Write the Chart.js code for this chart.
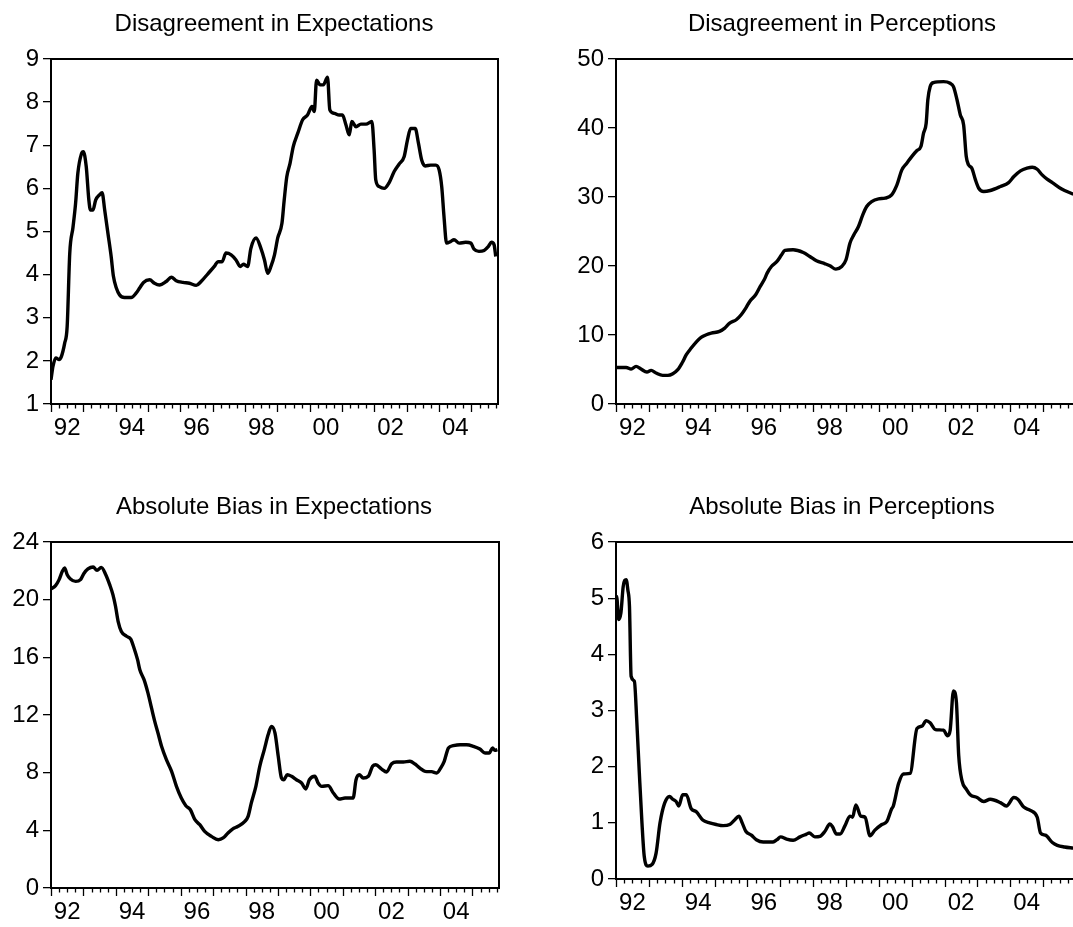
<!DOCTYPE html>
<html>
<head>
<meta charset="utf-8">
<script src="https://cdn.jsdelivr.net/npm/chart.js@4.4.0/dist/chart.umd.min.js"></script>
<style>
  html, body { margin: 0; padding: 0; background: #fff; }
  body { position: relative; width: 1073px; height: 927px; overflow: hidden; }
  .panel { position: absolute; }
  canvas { display: block; }
  .title {
    position: absolute; width: 440px; text-align: center; white-space: nowrap;
    font-family: "Liberation Sans", Arial, sans-serif; font-size: 24px; line-height: 28.8px; color: #000;
  }
</style>
</head>
<body>
<div class="panel" style="left:0px;top:0px"><canvas id="expDis" width="549" height="450"></canvas></div>
<div class="panel" style="left:560px;top:0px"><canvas id="perDis" width="563" height="450"></canvas></div>
<div class="panel" style="left:0px;top:483px"><canvas id="expBias" width="549" height="444"></canvas></div>
<div class="panel" style="left:560px;top:483px"><canvas id="perBias" width="563" height="444"></canvas></div>
<div class="title" style="left:54px;top:9px">Disagreement in Expectations</div>
<div class="title" style="left:622px;top:9px">Disagreement in Perceptions</div>
<div class="title" style="left:54px;top:492px">Absolute Bias in Expectations</div>
<div class="title" style="left:622px;top:492px">Absolute Bias in Perceptions</div>
<script>
// x axis labels, placed in the middle of every second year
const tickYears = [1992.5, 1994.5, 1996.5, 1998.5, 2000.5, 2002.5, 2004.5];
const tickLabels = ["92", "94", "96", "98", "00", "02", "04"];

// Disagreement in Expectations
const expDisYears = [
  1992.0, 1992.06, 1992.15, 1992.25, 1992.32, 1992.42, 1992.5, 1992.58, 1992.68, 1992.76,
  1992.83, 1992.94, 1993.0, 1993.09, 1993.17, 1993.22, 1993.3, 1993.38, 1993.5, 1993.58,
  1993.66, 1993.76, 1993.86, 1993.93, 1994.02, 1994.12, 1994.27, 1994.48, 1994.63, 1994.74,
  1994.86, 1995.05, 1995.2, 1995.35, 1995.56, 1995.72, 1995.87, 1996.08, 1996.28, 1996.49,
  1996.64, 1996.85, 1997.05, 1997.16, 1997.29, 1997.41, 1997.57, 1997.72, 1997.85, 1997.95,
  1998.08, 1998.18, 1998.34, 1998.49, 1998.6, 1998.7, 1998.8, 1998.91, 1999.01, 1999.14,
  1999.21, 1999.29, 1999.39, 1999.49, 1999.63, 1999.78, 1999.93, 2000.07, 2000.14, 2000.21,
  2000.32, 2000.42, 2000.55, 2000.62, 2000.76, 2000.91, 2001.01, 2001.12, 2001.22, 2001.3,
  2001.43, 2001.58, 2001.74, 2001.92, 2001.99, 2002.04, 2002.15, 2002.3, 2002.46, 2002.61,
  2002.76, 2002.92, 2003.02, 2003.12, 2003.26, 2003.36, 2003.46, 2003.57, 2003.74, 2003.9,
  2004.0, 2004.08, 2004.15, 2004.23, 2004.36, 2004.46, 2004.62, 2004.82, 2004.98, 2005.08,
  2005.23, 2005.39, 2005.52, 2005.62, 2005.7, 2005.75
];
const expDisValues = [
  1.56, 1.87, 2.07, 2.03, 2.1, 2.4, 2.8, 4.5, 5.1, 5.65,
  6.35, 6.8, 6.85, 6.5, 5.73, 5.5, 5.5, 5.73, 5.85, 5.9,
  5.5, 4.96, 4.42, 3.96, 3.69, 3.53, 3.47, 3.47, 3.57, 3.69,
  3.82, 3.88, 3.8, 3.76, 3.84, 3.94, 3.86, 3.82, 3.8, 3.75,
  3.84, 4.02, 4.19, 4.3, 4.3, 4.5, 4.46, 4.34, 4.19, 4.24,
  4.19, 4.61, 4.85, 4.61, 4.34, 4.03, 4.19, 4.46, 4.85, 5.19,
  5.73, 6.27, 6.58, 6.97, 7.28, 7.59, 7.7, 7.9, 7.78, 8.51,
  8.4, 8.4, 8.58, 7.82, 7.74, 7.7, 7.7, 7.47, 7.24, 7.55,
  7.43, 7.49, 7.49, 7.55, 6.89, 6.2, 6.04, 6.0, 6.14, 6.39,
  6.56, 6.74, 7.12, 7.39, 7.39, 7.05, 6.66, 6.52, 6.54, 6.54,
  6.43, 6.04, 5.35, 4.73, 4.77, 4.81, 4.73, 4.75, 4.73, 4.59,
  4.54, 4.56, 4.65, 4.75, 4.69, 4.42
];

// Disagreement in Perceptions
const perDisYears = [
  1992.0, 1992.31, 1992.46, 1992.61, 1992.76, 1992.94, 1993.07, 1993.22, 1993.42, 1993.58,
  1993.73, 1993.88, 1994.01, 1994.14, 1994.29, 1994.44, 1994.59, 1994.75, 1994.9, 1995.15,
  1995.31, 1995.46, 1995.66, 1995.81, 1995.95, 1996.07, 1996.25, 1996.39, 1996.51, 1996.6,
  1996.73, 1996.9, 1997.04, 1997.14, 1997.39, 1997.7, 1997.9, 1998.1, 1998.36, 1998.51,
  1998.69, 1998.87, 1999.0, 1999.12, 1999.24, 1999.38, 1999.51, 1999.63, 1999.78, 1999.99,
  2000.19, 2000.39, 2000.55, 2000.7, 2000.85, 2001.0, 2001.16, 2001.28, 2001.36, 2001.44,
  2001.49, 2001.56, 2001.66, 2001.97, 2002.17, 2002.27, 2002.38, 2002.48, 2002.58, 2002.66,
  2002.73, 2002.83, 2002.94, 2003.04, 2003.19, 2003.39, 2003.7, 2003.95, 2004.11, 2004.31,
  2004.51, 2004.67, 2004.82, 2004.97, 2005.12, 2005.28, 2005.55, 2005.92
];
const perDisValues = [
  5.3, 5.3, 5.07, 5.45, 5.07, 4.63, 4.87, 4.49, 4.15, 4.15,
  4.39, 4.97, 5.94, 7.14, 8.11, 8.98, 9.65, 10.04, 10.28, 10.52,
  11.0, 11.73, 12.21, 12.93, 13.9, 14.86, 15.83, 17.04, 18.0, 18.97,
  19.93, 20.66, 21.62, 22.25, 22.35, 21.96, 21.38, 20.75, 20.32, 20.03,
  19.55, 19.93, 20.9, 23.31, 24.52, 25.72, 27.41, 28.62, 29.34, 29.73,
  29.83, 30.31, 31.76, 33.93, 34.89, 35.86, 36.73, 37.31, 39.24, 40.69,
  44.06, 45.99, 46.57, 46.72, 46.48, 45.99, 44.06, 41.89, 40.44, 35.86,
  34.65, 34.17, 32.48, 31.27, 30.79, 30.94, 31.52, 32.09, 32.96, 33.78,
  34.17, 34.31, 34.02, 33.2, 32.58, 32.09, 31.2, 30.4
];

// Absolute Bias in Expectations
const expBiasYears = [
  1992.0, 1992.14, 1992.25, 1992.35, 1992.42, 1992.5, 1992.6, 1992.76, 1992.91, 1993.01,
  1993.14, 1993.3, 1993.42, 1993.55, 1993.69, 1993.81, 1993.91, 1993.99, 1994.07, 1994.17,
  1994.33, 1994.46, 1994.56, 1994.67, 1994.74, 1994.87, 1994.99, 1995.1, 1995.2, 1995.3,
  1995.41, 1995.56, 1995.72, 1995.87, 1996.02, 1996.16, 1996.3, 1996.44, 1996.59, 1996.74,
  1996.95, 1997.16, 1997.31, 1997.46, 1997.6, 1997.77, 1997.98, 1998.08, 1998.18, 1998.32,
  1998.44, 1998.58, 1998.7, 1998.8, 1998.91, 1999.01, 1999.11, 1999.18, 1999.29, 1999.42,
  1999.57, 1999.73, 1999.86, 1999.97, 2000.14, 2000.24, 2000.35, 2000.55, 2000.71, 2000.89,
  2001.07, 2001.32, 2001.41, 2001.51, 2001.63, 2001.79, 2001.92, 2002.02, 2002.2, 2002.35,
  2002.51, 2002.66, 2002.87, 2003.07, 2003.23, 2003.38, 2003.54, 2003.74, 2003.9, 2004.02,
  2004.13, 2004.26, 2004.41, 2004.62, 2004.82, 2005.03, 2005.23, 2005.39, 2005.52, 2005.62,
  2005.7, 2005.77
];
const expBiasValues = [
  20.74, 20.97, 21.39, 21.97, 22.2, 21.73, 21.43, 21.27, 21.39, 21.8,
  22.13, 22.27, 22.03, 22.24, 21.73, 21.04, 20.35, 19.54, 18.5, 17.8,
  17.46, 17.27, 16.65, 15.84, 15.14, 14.45, 13.53, 12.49, 11.56, 10.75,
  9.83, 8.9, 8.09, 7.05, 6.24, 5.71, 5.43, 4.74, 4.39, 3.93,
  3.58, 3.35, 3.47, 3.82, 4.09, 4.28, 4.62, 4.97, 5.9, 7.05,
  8.44, 9.6, 10.64, 11.21, 10.75, 9.13, 7.63, 7.51, 7.86, 7.75,
  7.51, 7.28, 6.87, 7.51, 7.75, 7.28, 7.05, 7.1, 6.59, 6.17,
  6.24, 6.24, 7.51, 7.86, 7.63, 7.75, 8.44, 8.55, 8.25, 8.05,
  8.62, 8.74, 8.74, 8.79, 8.6, 8.32, 8.09, 8.07, 7.98, 8.32,
  8.79, 9.71, 9.87, 9.94, 9.94, 9.83, 9.64, 9.36, 9.36, 9.71,
  9.55, 9.6
];

// Absolute Bias in Perceptions
const perBiasYears = [
  1992.0, 1992.02, 1992.08, 1992.15, 1992.22, 1992.31, 1992.36, 1992.41, 1992.46, 1992.56,
  1992.63, 1992.71, 1992.79, 1992.86, 1992.97, 1993.1, 1993.22, 1993.34, 1993.48, 1993.63,
  1993.73, 1993.83, 1993.91, 1994.03, 1994.14, 1994.29, 1994.44, 1994.64, 1994.85, 1995.05,
  1995.26, 1995.46, 1995.61, 1995.74, 1995.84, 1995.95, 1996.12, 1996.27, 1996.48, 1996.78,
  1996.9, 1997.01, 1997.19, 1997.39, 1997.6, 1997.8, 1997.88, 1998.05, 1998.21, 1998.36,
  1998.51, 1998.59, 1998.71, 1998.82, 1998.97, 1999.12, 1999.2, 1999.3, 1999.45, 1999.58,
  1999.73, 1999.88, 2000.09, 2000.24, 2000.39, 2000.44, 2000.6, 2000.75, 2000.95, 2001.16,
  2001.31, 2001.44, 2001.56, 2001.72, 2001.97, 2002.09, 2002.17, 2002.27, 2002.36, 2002.43,
  2002.53, 2002.66, 2002.78, 2002.99, 2003.19, 2003.39, 2003.7, 2003.88, 2004.11, 2004.23,
  2004.41, 2004.61, 2004.82, 2004.92, 2005.07, 2005.28, 2005.43, 2005.65, 2005.92
];
const perBiasValues = [
  4.97, 5.03, 4.62, 4.74, 5.21, 5.33, 5.15, 4.85, 3.61, 3.52,
  2.84, 1.89, 1.0, 0.4, 0.23, 0.26, 0.46, 1.0, 1.35, 1.47,
  1.42, 1.38, 1.3, 1.5, 1.5, 1.25, 1.2, 1.05, 1.0, 0.97,
  0.95, 0.97, 1.05, 1.12, 1.0, 0.85, 0.78, 0.7, 0.66, 0.66,
  0.7, 0.75, 0.71, 0.69, 0.75, 0.8, 0.82, 0.75, 0.76, 0.85,
  0.98, 0.93, 0.8, 0.8, 0.95, 1.12, 1.1, 1.32, 1.12, 1.1,
  0.77, 0.87, 0.97, 1.02, 1.25, 1.3, 1.7, 1.87, 1.88, 2.68,
  2.72, 2.82, 2.78, 2.66, 2.65, 2.55, 2.65, 3.35, 3.15, 2.2,
  1.75, 1.6, 1.5, 1.45, 1.38, 1.42, 1.36, 1.3, 1.45, 1.42,
  1.28, 1.22, 1.1, 0.82, 0.78, 0.65, 0.6, 0.57, 0.55
];

Chart.defaults.font.family = "'Liberation Sans', Arial, sans-serif";
Chart.defaults.color = "#000";

// box round the plot plus quarter / year tick marks under the time axis
const framePlugin = {
  id: "frame",
  afterDatasetsDraw(chart) {
    const { ctx, chartArea: a } = chart;
    const x = chart.scales.x;
    ctx.save();
    ctx.strokeStyle = "#000";
    ctx.lineWidth = 2;
    ctx.strokeRect(a.left, a.top, a.right - a.left, a.bottom - a.top);
    ctx.lineWidth = 1.3;
    for (let q = 0; ; q++) {
      const v = x.min + q * 0.25;
      if (v > x.max + 1e-6) break;
      const px = Math.round(x.getPixelForValue(v)) + 0.5;
      const len = q % 4 === 0 ? 8 : 4.5;
      ctx.beginPath();
      ctx.moveTo(px, a.bottom);
      ctx.lineTo(px, a.bottom + len);
      ctx.stroke();
    }
    ctx.restore();
  },
};

function makePanel(id, cfg) {
  new Chart(document.getElementById(id), {
    type: "line",
    data: {
      datasets: [{
        data: cfg.years.map((yr, i) => ({ x: yr, y: cfg.values[i] })),
        borderColor: "#000",
        borderWidth: 3.4,
        pointRadius: 0,
        cubicInterpolationMode: "monotone",
        borderJoinStyle: "round",
      }],
    },
    options: {
      responsive: false,
      animation: false,
      devicePixelRatio: 1,
      layout: { padding: { left: 0, right: cfg.padRight, top: 59, bottom: 0 } },
      plugins: {
        legend: { display: false },
        tooltip: { enabled: false },
        title: { display: false },
      },
      scales: {
        x: {
          type: "linear",
          min: 1992,
          max: cfg.xMax,
          afterBuildTicks: (scale) => {
            scale.ticks = tickYears.map((v) => ({ value: v }));
          },
          afterFit: (scale) => { scale.height = cfg.xHeight; },
          grid: { display: false },
          border: { display: false },
          ticks: {
            autoSkip: false,
            maxRotation: 0,
            padding: 2,
            font: { size: 24 },
            color: "#000",
            callback: (v, i) => tickLabels[i],
          },
        },
        y: {
          min: cfg.yMin,
          max: cfg.yMax,
          afterFit: (scale) => { scale.width = cfg.yWidth; },
          grid: {
            drawOnChartArea: false,
            drawTicks: true,
            tickLength: 8,
            color: "#000",
            lineWidth: 1.3,
          },
          border: { display: false },
          ticks: {
            stepSize: cfg.yStep,
            padding: 4,
            font: { size: 24 },
            color: "#000",
            callback: (v) => String(v),
          },
        },
      },
    },
    plugins: [framePlugin],
  });
}

makePanel("expDis", {
  years: expDisYears, values: expDisValues,
  yMin: 1, yMax: 9, yStep: 1,
  xMax: 2005.82, yWidth: 51, xHeight: 46, padRight: 51,
});
makePanel("perDis", {
  years: perDisYears, values: perDisValues,
  yMin: 0, yMax: 50, yStep: 10,
  xMax: 2006.0, yWidth: 56, xHeight: 46, padRight: 47,
});
makePanel("expBias", {
  years: expBiasYears, values: expBiasValues,
  yMin: 0, yMax: 24, yStep: 4,
  xMax: 2005.82, yWidth: 51, xHeight: 39, padRight: 50,
});
makePanel("perBias", {
  years: perBiasYears, values: perBiasValues,
  yMin: 0, yMax: 6, yStep: 1,
  xMax: 2006.0, yWidth: 56, xHeight: 48, padRight: 47,
});
</script>
</body>
</html>
